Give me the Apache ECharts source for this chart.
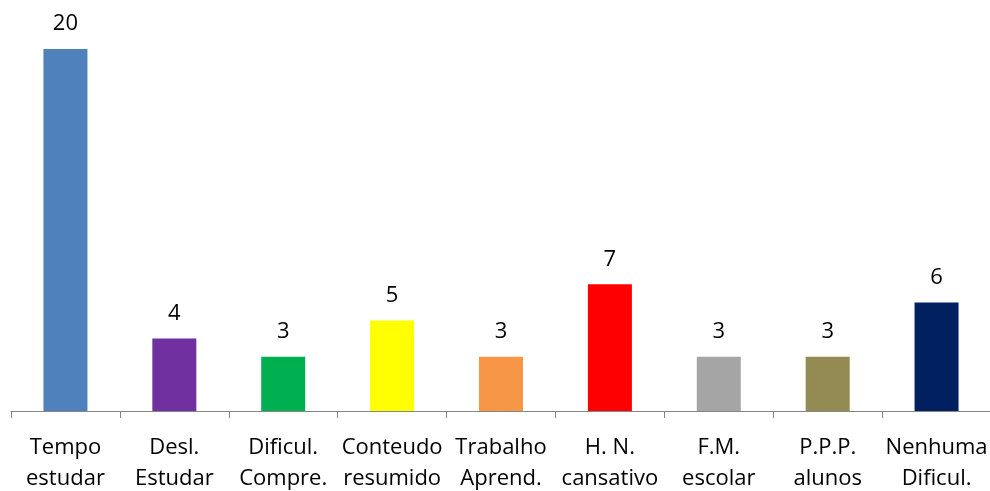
<!DOCTYPE html>
<html>
<head>
<meta charset="utf-8">
<script src="https://cdn.jsdelivr.net/npm/echarts@6/dist/echarts.min.js"></script>
<style>
  html, body { margin: 0; padding: 0; background: #fff; }
  #chart { width: 990px; height: 491px; }
</style>
</head>
<body>
<div id="chart"></div>
<script>
// Category names (two lines each) and the count for each bar
const categories = [
  'Tempo\nestudar', 'Desl.\nEstudar', 'Dificul.\nCompre.', 'Conteudo\nresumido',
  'Trabalho\nAprend.', 'H. N.\ncansativo', 'F.M.\nescolar', 'P.P.P.\nalunos', 'Nenhuma\nDificul.'
];
const counts = [20, 4, 3, 5, 3, 7, 3, 3, 6];
const barColors = ['#4F81BD', '#7030A0', '#00B050', '#FFFF00', '#F79646', '#FF0000', '#A5A5A5', '#948A54', '#002060'];

const chart = echarts.init(document.getElementById('chart'));
const font = '"Open Sans", "Liberation Sans", sans-serif';

chart.setOption({
  animation: false,
  grid: { left: 11, right: -1, top: 49, bottom: 80, outerBoundsMode: 'none', containLabel: false },
  xAxis: {
    type: 'category',
    data: categories,
    axisLine: { lineStyle: { color: '#868686', width: 1 } },
    axisTick: { show: true, length: 7, alignWithLabel: false, lineStyle: { color: '#868686' } },
    axisLabel: {
      color: '#000', fontFamily: font, fontSize: 22, lineHeight: 31,
      margin: 21, interval: 0
    }
  },
  yAxis: {
    type: 'value', min: 0, max: 20,
    show: false,
    splitLine: { show: false }
  },
  series: [{
    type: 'bar',
    barWidth: 44,
    data: counts.map((v, i) => ({ value: v, itemStyle: { color: barColors[i] } })),
    label: {
      show: true, position: 'top', distance: 14,
      color: '#000', fontFamily: font, fontSize: 22
    }
  }]
});
</script>
</body>
</html>
